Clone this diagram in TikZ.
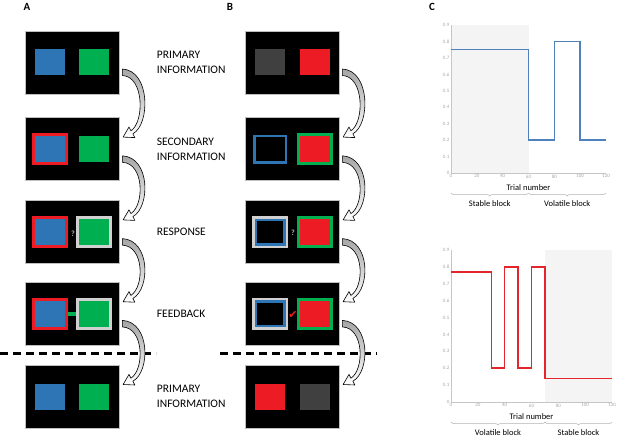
\documentclass[tikz,border=0pt]{standalone}
\usepackage{fontspec}
\setmainfont{Carlito}
\newfontfamily\checkfont{DejaVu Sans}
\usetikzlibrary{positioning,calc,decorations.pathreplacing}

\definecolor{cueblue}{RGB}{46,117,182}
\definecolor{cuegreen}{RGB}{0,176,80}
\definecolor{cuered}{RGB}{237,28,36}
\definecolor{cuegray}{RGB}{64,64,64}
\definecolor{choicegray}{RGB}{208,208,208}
\definecolor{probblue}{RGB}{79,129,189}
\definecolor{probred}{RGB}{226,38,44}

\tikzset{
  screen/.style={fill=black, draw=gray!50, line width=0.8pt, minimum width=94pt, minimum height=63pt, inner sep=0pt},
  patch/.style={fill=#1, minimum width=30pt, minimum height=26pt, inner sep=0pt},
  framed/.style={draw=#1, line width=3pt, minimum width=33pt, minimum height=29pt, inner sep=0pt},
  ring/.style={draw=#1, fill=black, line width=2.5pt, inner sep=0pt},
  stage/.style={align=left, font=\fontsize{11.5}{15}\selectfont},
  panel/.style={font=\fontsize{11}{11}\selectfont\bfseries},
  query/.style={font=\fontsize{8}{8}\selectfont\bfseries, text=gray!60, inner sep=0pt},
  flowarrow/.style={draw=black, line width=0.6pt, top color=gray!70, bottom color=white, line join=round},
  divider/.style={line width=3pt, dash pattern=on 8pt off 5pt},
  axisline/.style={draw=gray!45, line width=0.5pt},
  ticklbl/.style={font=\fontsize{5}{5}\selectfont, text=gray!70, inner sep=1.5pt},
  axistitle/.style={font=\fontsize{8.5}{9}\selectfont},
  blockbrace/.style={decorate, decoration={brace, mirror, amplitude=3pt}, draw=gray!60, line width=0.5pt},
  blocklbl/.style={font=\fontsize{8.5}{9}\selectfont},
  blockshade/.style={fill=gray!9}
}

\newcommand\cyclearrow[2]{%
  \coordinate (s) at ($(#1.east)+(3,10)$);
  \coordinate (e) at ($(#2.east)+(3,-12)$);
  \draw[flowarrow] ($(s)+(0,-3.5)$) .. controls ($(s)+(28,-2)$) and ($(e)+(28,-13)$) .. ($(e)+(10.5,-3.5)$)
    -- ($(e)+(12.4,0.3)$) -- ($(e)+(0.7,-0.2)$) -- ($(e)+(6.6,-10.3)$) -- ($(e)+(8.5,-6.5)$)
    .. controls ($(e)+(22,-15)$) and ($(s)+(22,4)$) .. ($(s)+(0,3)$) -- cycle;}

\begin{document}
\begin{tikzpicture}[x=1pt, y=-1pt]
\useasboundingbox (0,0) rectangle (617,438);

\node[panel] (lblA) at (27,7) {A};
\node[panel] (lblB) at (230,7) {B};
\node[panel] (lblC) at (432,7) {C};

\node[screen] (scrA1) at (72,62.5) {};
\node[screen, below=23pt of scrA1] (scrA2) {};
\node[screen, below=19pt of scrA2] (scrA3) {};
\node[screen, below=18pt of scrA3] (scrA4) {};
\node[screen, below=19pt of scrA4] (scrA5) {};

\node[screen] (scrB1) at (292,62.5) {};
\node[screen, below=23pt of scrB1] (scrB2) {};
\node[screen, below=19pt of scrB2] (scrB3) {};
\node[screen, below=18pt of scrB3] (scrB4) {};
\node[screen, below=19pt of scrB4] (scrB5) {};

\node[stage, right=34pt of scrA1] (primary) {PRIMARY\\INFORMATION};
\node[stage, right=34pt of scrA2] (secondary) {SECONDARY\\INFORMATION};
\node[stage, right=34pt of scrA3] (response) {RESPONSE};
\node[stage, right=34pt of scrA4] (feedback) {FEEDBACK};
\node[stage, right=34pt of scrA5] (primary2) {PRIMARY\\INFORMATION};

\node[patch=cueblue] (a1l) at ($(scrA1)+(-22,0)$) {};
\node[patch=cuegreen] (a1r) at ($(scrA1)+(22,0)$) {};
\node[framed=cuered, fill=cueblue] (a2l) at ($(scrA2)+(-22,0)$) {};
\node[patch=cuegreen] (a2r) at ($(scrA2)+(22,0)$) {};
\node[framed=cuered, fill=cueblue] (a3l) at ($(scrA3)+(-22,0)$) {};
\node[framed=choicegray, fill=cuegreen] (a3r) at ($(scrA3)+(22,0)$) {};
\node[query] (a3q) at ($(scrA3)+(1,2)$) {?};
\node[framed=cuered, fill=cueblue] (a4l) at ($(scrA4)+(-22,0)$) {};
\node[framed=choicegray, fill=cuegreen] (a4r) at ($(scrA4)+(22,0)$) {};
\draw[cuegreen, line width=4pt] (a4l.east) -- (a4r.west);
\node[patch=cueblue] (a5l) at ($(scrA5)+(-22,0)$) {};
\node[patch=cuegreen] (a5r) at ($(scrA5)+(22,0)$) {};

\node[patch=cuegray] (b1l) at ($(scrB1)+(-22,0)$) {};
\node[patch=cuered] (b1r) at ($(scrB1)+(23,0)$) {};
\node[ring=cueblue, minimum width=31.5pt, minimum height=26.5pt] (b2l) at ($(scrB2)+(-22,0)$) {};
\node[framed=cuegreen, fill=cuered] (b2r) at ($(scrB2)+(23,0)$) {};
\node[ring=choicegray, minimum width=33.5pt, minimum height=29.5pt] (b3o) at ($(scrB3)+(-22,0)$) {};
\node[ring=cueblue, minimum width=28.5pt, minimum height=24.5pt] (b3l) at (b3o) {};
\node[framed=cuegreen, fill=cuered] (b3r) at ($(scrB3)+(23,0)$) {};
\node[query] (b3q) at ($(scrB3)+(1,1)$) {?};
\node[ring=choicegray, minimum width=33.5pt, minimum height=29.5pt] (b4o) at ($(scrB4)+(-22,0)$) {};
\node[ring=cueblue, minimum width=28.5pt, minimum height=24.5pt] (b4l) at (b4o) {};
\node[framed=cuegreen, fill=cuered] (b4r) at ($(scrB4)+(23,0)$) {};
\node[text=cuered, inner sep=0pt, font=\checkfont\fontsize{11}{11}\selectfont] (b4c) at ($(scrB4)+(1,1)$) {✔};
\node[patch=cuered] (b5l) at ($(scrB5)+(-22,0)$) {};
\node[patch=cuegray] (b5r) at ($(scrB5)+(23,0)$) {};

\coordinate (cutA0) at (0,353);
\coordinate (cutA1) at (156,353);
\coordinate (cutB0) at (220,353);
\coordinate (cutB1) at (377,353);
\draw[divider] (cutA0) -- (cutA1);
\draw[divider] (cutB0) -- (cutB1);

\cyclearrow{scrA1}{scrA2}
\cyclearrow{scrA2}{scrA3}
\cyclearrow{scrA3}{scrA4}
\cyclearrow{scrA4}{scrA5}
\cyclearrow{scrB1}{scrB2}
\cyclearrow{scrB2}{scrB3}
\cyclearrow{scrB3}{scrB4}
\cyclearrow{scrB4}{scrB5}

\begin{scope}[shift={(451,173)}, x=1.2917pt, y=164.44pt]
  \fill[blockshade] (0,0) rectangle (60,0.9);
  \draw[axisline] (0,0.9) -- (0,0) -- (120,0);
  \foreach \v/\txt in {0/0,0.1/0.1,0.2/0.2,0.3/0.3,0.4/0.4,0.5/0.5,0.6/0.6,0.7/0.7,0.8/0.8,0.9/0.9}
    \node[ticklbl, left] at (0,\v) {\txt};
  \foreach \t in {0,20,...,120}
    \node[ticklbl, below] at (\t,0) {\t};
  \draw[probblue, line width=1.5pt] (0,0.75) -| (60,0.2) -| (80,0.8) -| (100,0.2) -- (120,0.2);
  \node[axistitle] (trialT) at (60,-0.09) {Trial number};
  \coordinate (top0) at (0,0);
  \coordinate (top60) at (60,0);
  \coordinate (top120) at (120,0);
\end{scope}
\draw[blockbrace] ($(top0)+(0,20)$) -- ($(top60)+(0,20)$) node[midway, below=4pt, blocklbl] {Stable block};
\draw[blockbrace] ($(top60)+(0,20)$) -- ($(top120)+(0,20)$) node[midway, below=4pt, blocklbl] {Volatile block};

\begin{scope}[shift={(451,402)}, x=1.3417pt, y=168.9pt]
  \fill[blockshade] (70,0) rectangle (120,0.9);
  \draw[axisline] (0,0.9) -- (0,0) -- (120,0);
  \foreach \v/\txt in {0/0,0.1/0.1,0.2/0.2,0.3/0.3,0.4/0.4,0.5/0.5,0.6/0.6,0.7/0.7,0.8/0.8,0.9/0.9}
    \node[ticklbl, left] at (0,\v) {\txt};
  \foreach \t in {0,20,...,120}
    \node[ticklbl, below] at (\t,0) {\t};
  \draw[probred, line width=1.5pt] (0,0.77) -| (30,0.2) -| (40,0.8) -| (50,0.2) -| (60,0.8) -| (70,0.14) -- (120,0.14);
  \node[axistitle] (trialB) at (60,-0.089) {Trial number};
  \coordinate (bot0) at (0,0);
  \coordinate (bot70) at (70,0);
  \coordinate (bot120) at (120,0);
\end{scope}
\draw[blockbrace] ($(bot0)+(0,20)$) -- ($(bot70)+(0,20)$) node[midway, below=4pt, blocklbl] {Volatile block};
\draw[blockbrace] ($(bot70)+(0,20)$) -- ($(bot120)+(0,20)$) node[midway, below=4pt, blocklbl] {Stable block};
\end{tikzpicture}
\end{document}
